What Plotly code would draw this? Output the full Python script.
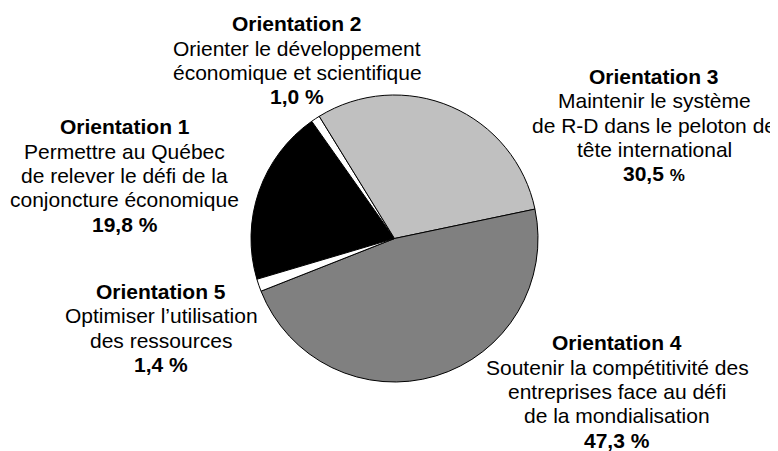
import plotly.graph_objects as go

W, H = 778, 451
OFF = 8  # page body margin offset compensation

orientations = ["Orientation 1", "Orientation 2", "Orientation 3", "Orientation 4", "Orientation 5"]
shares = [19.8, 1.0, 30.5, 47.3, 1.4]
share_labels = ["19,8 %", "1,0 %", "30,5 %", "47,3 %", "1,4 %"]
descriptions = [
    ["Permettre au Québec", "de relever le défi de la", "conjoncture économique"],
    ["Orienter le développement", "économique et scientifique"],
    ["Maintenir le système", "de R-D dans le peloton de", "tête international"],
    ["Soutenir la compétitivité des", "entreprises face au défi", "de la mondialisation"],
    ["Optimiser l’utilisation", "des ressources"],
]
slice_colors = ["#000000", "#ffffff", "#c0c0c0", "#808080", "#ffffff"]

# label block anchors (center x, first baseline y) in reference pixels
label_pos = [(125, 134), (297, 31), (654, 83.5), (617, 350), (161, 298.5)]
LINE = 24.4
FONT = "Liberation Sans, Arial, sans-serif"
FS = 21

cx, cy, r = 394.5 - OFF, 238.5 - OFF, 143.5

fig = go.Figure()
fig.add_trace(go.Pie(
    labels=orientations,
    values=shares,
    sort=False,
    direction="clockwise",
    rotation=-106.5,
    textinfo="none",
    hoverinfo="label+percent",
    marker=dict(colors=slice_colors, line=dict(color="#000000", width=1)),
    domain=dict(x=[(cx - r) / W, (cx + r) / W], y=[(H - cy - r) / H, (H - cy + r) / H]),
    showlegend=False,
))

annotations = []
def add_line(text, x, baseline, size=FS):
    px = x - OFF
    py = baseline - OFF - 0.3465 * size
    annotations.append(dict(
        text=text, x=px / W, y=1 - py / H,
        xref="paper", yref="paper", xanchor="center", yanchor="middle",
        showarrow=False, font=dict(family=FONT, size=size, color="#000000"),
    ))

for i, name in enumerate(orientations):
    x, b = label_pos[i]
    lines = ["<b>" + name + "</b>"] + descriptions[i]
    for k, t in enumerate(lines):
        add_line(t, x, b + k * LINE)
    pct = share_labels[i]
    if i == 2:
        num, sign = pct.split(" ")
        pct_text = "<b>" + num + " </b><b><span style='font-size:17px'>" + sign + "</span></b>"
    else:
        pct_text = "<b>" + pct + "</b>"
    add_line(pct_text, x, b + len(lines) * LINE)

fig.update_layout(
    width=W, height=H,
    margin=dict(l=0, r=0, t=0, b=0),
    paper_bgcolor="#ffffff",
    plot_bgcolor="#ffffff",
    annotations=annotations,
)

fig.write_html("out.html")
